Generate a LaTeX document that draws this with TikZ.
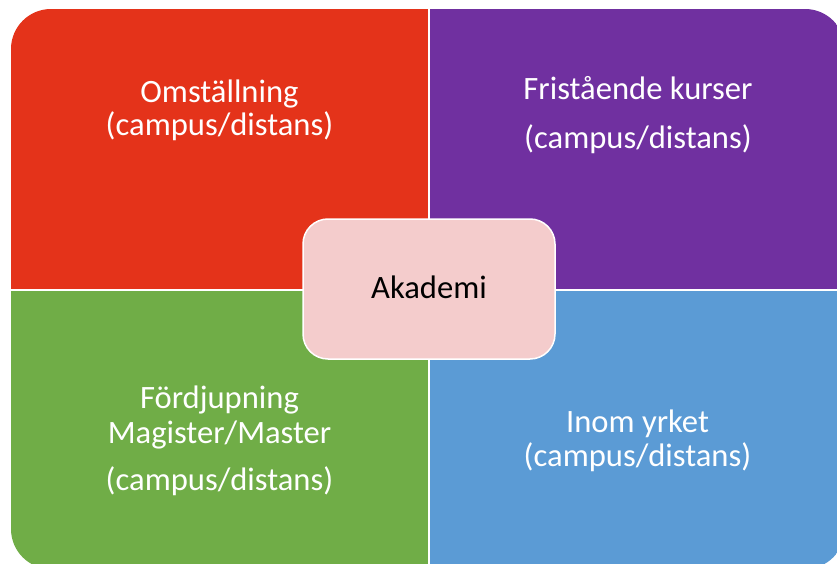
\documentclass[tikz,border=0pt]{standalone}
\usepackage{fontspec}
\setmainfont{Carlito}
\definecolor{qred}{HTML}{E4331A}
\definecolor{qpurple}{HTML}{7030A0}
\definecolor{qgreen}{HTML}{70AD47}
\definecolor{qblue}{HTML}{5B9BD5}
\definecolor{qpink}{HTML}{F4CCCC}
\tikzset{
  qtext/.style={text=white, anchor=base, inner sep=0pt, font=\fontsize{32.6}{35}\selectfont},
  hubbox/.style={fill=qpink, draw=white, line width=1.5pt, rounded corners=25pt},
}
\begin{document}
\begin{tikzpicture}[x=1pt,y=-1pt]
\useasboundingbox (0,0) rectangle (837,564);
\fill[white] (0,0) rectangle (837,564);
\begin{scope}
  \clip[rounded corners=40pt] (11,9) rectangle (845,569);
  \fill[qred] (11,9) rectangle (428,288.5);
  \fill[qpurple] (430,9) rectangle (845,288.5);
  \fill[qgreen] (11,290.5) rectangle (428,569);
  \fill[qblue] (430,290.5) rectangle (845,569);
\end{scope}
% hub
\path[hubbox] (303,219) rectangle (555,359);
\node[anchor=base, inner sep=0pt, font=\fontsize{32.6}{35}\selectfont] (hub) at (429,298) {Akademi};
% texts
\node[qtext] (oa) at (219.5,103) {Omställning};
\node[qtext] (ob) at (219.5,136) {(campus/distans)};
\node[qtext] (fa) at (638,99.5) {Fristående kurser};
\node[qtext] (fb) at (638,148.5) {(campus/distans)};
\node[qtext] (ga) at (219.5,408) {Fördjupning};
\node[qtext] (gb) at (219.5,443) {Magister/Master};
\node[qtext] (gc) at (219.5,490) {(campus/distans)};
\node[qtext] (ia) at (637.5,432) {Inom yrket};
\node[qtext] (ib) at (637.5,466) {(campus/distans)};
\end{tikzpicture}
\end{document}
